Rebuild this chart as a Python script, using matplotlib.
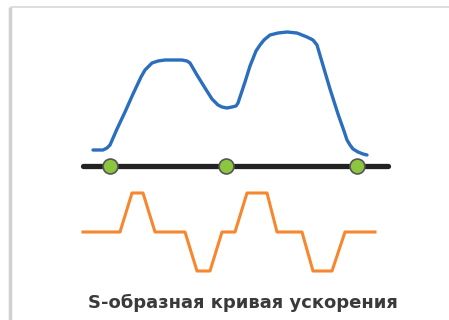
import matplotlib
matplotlib.use('Agg')
import matplotlib.pyplot as plt

# speed curve (pixel coords, y grows downward)
speed_x = [93, 103, 107, 110, 117, 125, 133, 141, 145, 149, 152, 158, 165, 174, 182, 187, 190,
           197, 205, 212, 215, 218, 222, 227, 232, 236, 238, 240, 245, 250, 256, 260, 264, 270,
           278, 287, 297, 307, 313, 317, 322, 330, 338, 344, 347, 350, 353, 358, 363, 367]
speed_y = [150, 150, 148, 145, 129, 112, 94, 77, 70, 66, 63, 61, 60, 60, 60, 61, 63,
           75, 88, 99, 102, 105, 107, 108, 107, 106, 103, 97, 82, 66, 51, 45, 40, 35,
           33, 32, 33, 37, 40, 45, 62, 89, 114, 131, 140, 145, 149, 152, 154, 155]

# jerk / acceleration profile
acc_x = [83, 120, 132, 143, 155, 185, 197, 210, 222, 235, 247, 267, 277, 302, 313, 332, 345, 375]
acc_y = [232, 232, 193, 193, 232, 232, 271, 271, 232, 232, 193, 193, 232, 232, 271, 271, 232, 232]

axis_x = [83, 388]
axis_y = [166, 166]
dots_x = [110, 226, 357]
dots_y = [166, 166, 166]

caption = "S-образная кривая ускорения"

fig = plt.figure(figsize=(4.49, 3.20), dpi=100)
ax = fig.add_axes([0, 0, 1, 1])
ax.set_xlim(0, 449)
ax.set_ylim(320, 0)
ax.axis('off')

# frame
ax.plot([9.5, 9.5], [7, 320], color='#d0d0d0', lw=2.5, solid_capstyle='butt')
ax.plot([9.5, 449], [6.5, 6.5], color='#d8d8d8', lw=1.2, solid_capstyle='butt')

ax.plot(speed_x, speed_y, color='#2a6ebd', lw=2.4, solid_joinstyle='round', solid_capstyle='round')
ax.plot(axis_x, axis_y, color='#222222', lw=3.8, solid_capstyle='round', zorder=3)
ax.scatter(dots_x, dots_y, s=115, color='#8cc63e', edgecolors='#555555', linewidths=1.2, zorder=4)
ax.plot(acc_x, acc_y, color='#f7872e', lw=2.2, solid_joinstyle='round')

ax.text(243, 303, caption, ha='center', va='center', fontsize=13,
        fontweight='bold', color='#3a3a3a')

plt.savefig("out.png", dpi=100)
